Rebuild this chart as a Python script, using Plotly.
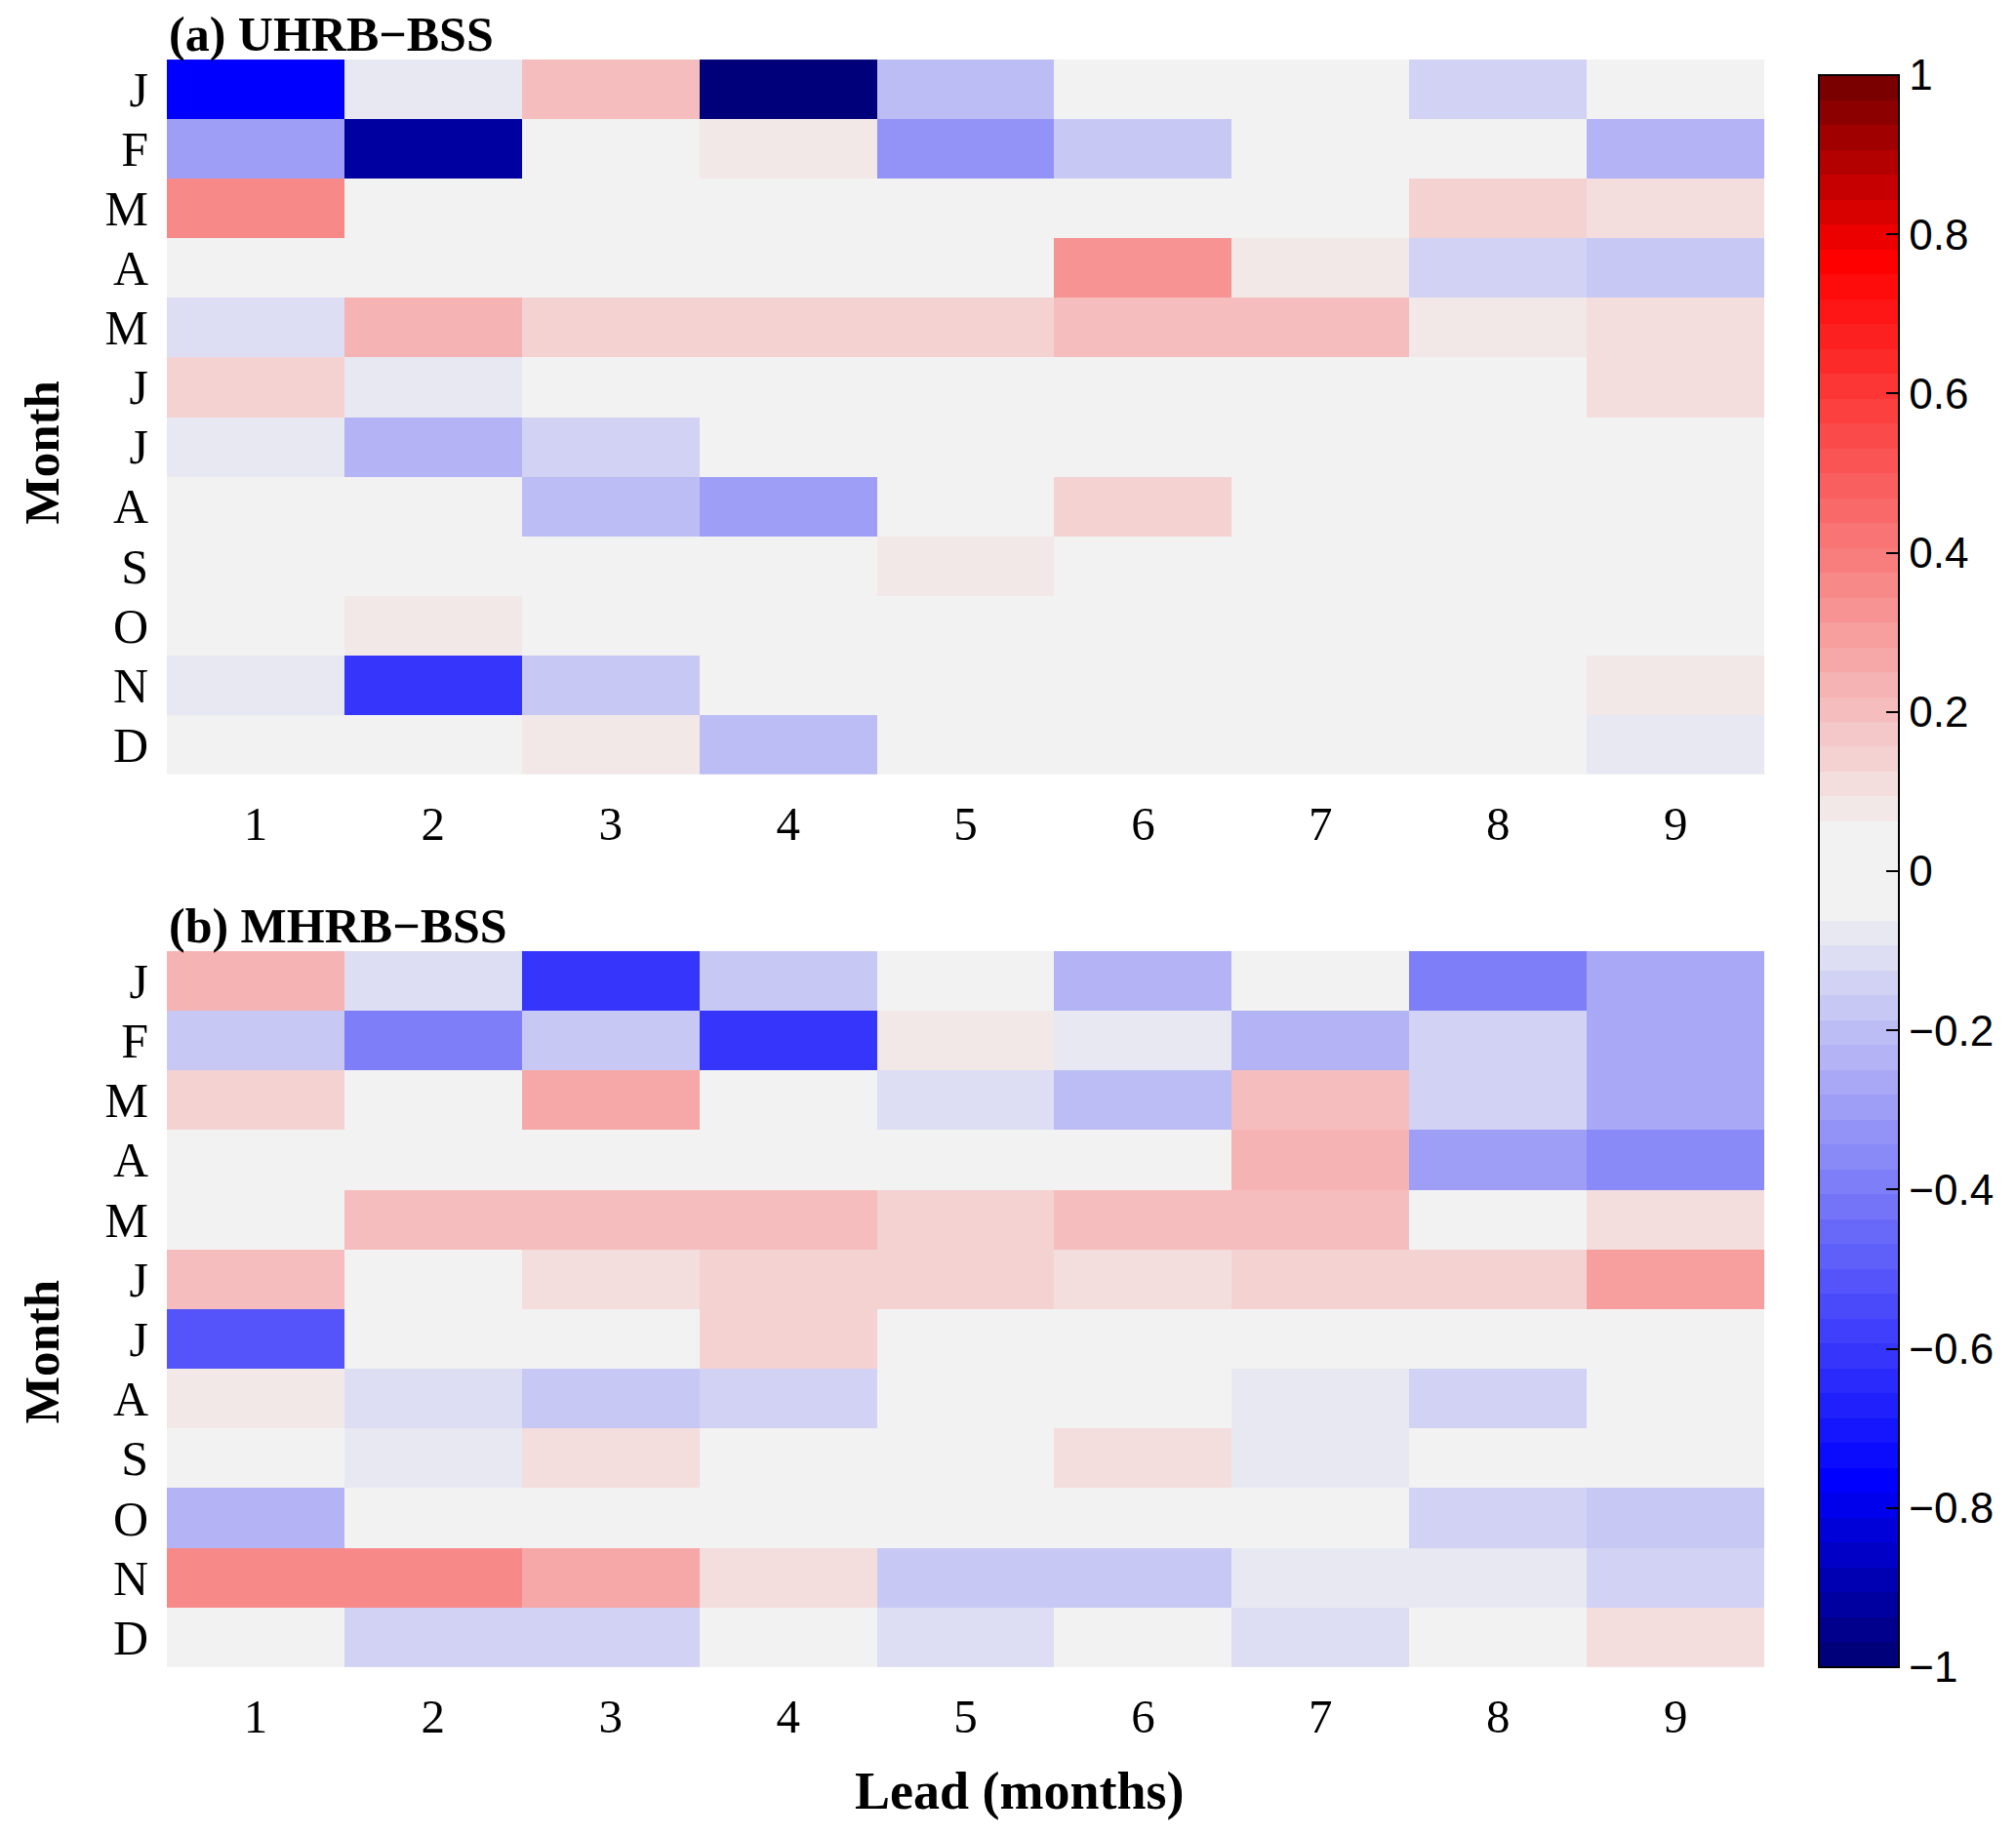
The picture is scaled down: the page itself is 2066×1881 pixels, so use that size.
import numpy as np
import plotly.graph_objects as go

months = ["J", "F", "M", "A", "M", "J", "J", "A", "S", "O", "N", "D"]
leads = [1, 2, 3, 4, 5, 6, 7, 8, 9]

# (a) UHRB-BSS, rows = months J..D, columns = lead 1..9
uhrb = [
    [-0.77, -0.08, 0.20, -0.97, -0.21, 0.00, 0.00, -0.14, 0.00],
    [-0.30, -0.91, 0.00, 0.08, -0.33, -0.18, 0.00, 0.00, -0.24],
    [0.36, 0.00, 0.00, 0.00, 0.00, 0.00, 0.00, 0.14, 0.11],
    [0.00, 0.00, 0.00, 0.00, 0.00, 0.33, 0.08, -0.14, -0.18],
    [-0.12, 0.235, 0.14, 0.14, 0.14, 0.20, 0.20, 0.08, 0.11],
    [0.14, -0.08, 0.00, 0.00, 0.00, 0.00, 0.00, 0.00, 0.11],
    [-0.08, -0.24, -0.14, 0.00, 0.00, 0.00, 0.00, 0.00, 0.00],
    [0.00, 0.00, -0.21, -0.30, 0.00, 0.14, 0.00, 0.00, 0.00],
    [0.00, 0.00, 0.00, 0.00, 0.08, 0.00, 0.00, 0.00, 0.00],
    [0.00, 0.08, 0.00, 0.00, 0.00, 0.00, 0.00, 0.00, 0.00],
    [-0.08, -0.60, -0.18, 0.00, 0.00, 0.00, 0.00, 0.00, 0.08],
    [0.00, 0.00, 0.08, -0.21, 0.00, 0.00, 0.00, 0.00, -0.08],
]

# (b) MHRB-BSS
mhrb = [
    [0.24, -0.12, -0.60, -0.18, 0.00, -0.24, 0.00, -0.39, -0.27],
    [-0.16, -0.39, -0.18, -0.62, 0.08, -0.08, -0.24, -0.14, -0.27],
    [0.14, 0.00, 0.26, 0.00, -0.12, -0.21, 0.21, -0.14, -0.27],
    [0.00, 0.00, 0.00, 0.00, 0.00, 0.00, 0.24, -0.30, -0.36],
    [0.00, 0.20, 0.19, 0.19, 0.14, 0.19, 0.21, 0.00, 0.11],
    [0.20, 0.00, 0.11, 0.14, 0.14, 0.11, 0.14, 0.14, 0.30],
    [-0.53, 0.00, 0.00, 0.14, 0.00, 0.00, 0.00, 0.00, 0.00],
    [0.08, -0.12, -0.18, -0.14, 0.00, 0.00, -0.08, -0.14, 0.00],
    [0.00, -0.08, 0.11, 0.00, 0.00, 0.11, -0.08, 0.00, 0.00],
    [-0.24, 0.00, 0.00, 0.00, 0.00, 0.00, 0.00, -0.14, -0.18],
    [0.36, 0.37, 0.28, 0.11, -0.18, -0.18, -0.08, -0.08, -0.14],
    [0.00, -0.14, -0.14, 0.00, -0.11, 0.00, -0.11, 0.00, 0.11],
]

cbar_ticks = [-1, -0.8, -0.6, -0.4, -0.2, 0, 0.2, 0.4, 0.6, 0.8, 1]


# ---- discrete 64-level blue-gray-red colormap ----
def band_color(v):
    gray = 242.0
    a = abs(v)
    if a < 0.0625:
        c = (gray, gray, gray)
        return "rgb(%d,%d,%d)" % c
    if a <= 0.78:
        t = min(max((a - 0.047) / (0.766 - 0.047), 0), 1)
        main = gray + (255 - gray) * t
        other = gray * (1 - t)
    else:
        t = (a - 0.766) / (1.0 - 0.766)
        main = 255 - (255 - 112) * min(t, 1)
        other = 0
    if v > 0:
        c = (main, other, other)
    else:
        c = (other, other, main)
    return "rgb(%d,%d,%d)" % tuple(int(round(x)) for x in c)


n = 64
colorscale = []
for k in range(n):
    center = -1 + (k + 0.5) * 2 / n
    col = band_color(center)
    colorscale.append([k / n, col])
    colorscale.append([(k + 1) / n, col])

serif = "Liberation Serif"
sans = "Liberation Sans"
black = "#000000"

W, H = 2066, 1881
X0, X1 = 0.0789, 0.8713
YA = [0.5823, 0.9718]
YB = [0.0957, 0.486]
CB_X = 0.8982
CB_TH = 82
CB_Y0, CB_Y1 = 0.0957, 0.9631

fig = go.Figure()

fig.add_trace(go.Heatmap(
    z=uhrb, x=leads, y=list(range(12)), colorscale=colorscale,
    zmin=-1, zmax=1, xaxis="x", yaxis="y", showscale=True,
    colorbar=dict(
        x=CB_X, xanchor="left", xpad=0,
        y=CB_Y0, yanchor="bottom", len=CB_Y1 - CB_Y0, lenmode="fraction",
        thickness=CB_TH, thicknessmode="pixels",
        outlinecolor=black, outlinewidth=2,
        tickvals=cbar_ticks, ticktext=[("%g" % t).replace("-", "\u2212") for t in cbar_ticks],
        ticks="inside", ticklen=14, tickwidth=2, tickcolor=black,
        tickfont=dict(family=sans, size=44, color=black),
        ypad=0,
    ),
))
fig.add_trace(go.Heatmap(
    z=mhrb, x=leads, y=list(range(12)), colorscale=colorscale,
    zmin=-1, zmax=1, xaxis="x2", yaxis="y2", showscale=False,
))

# left-side colorbar tick marks (mirror of the inside ticks)
shapes = []
for t in cbar_ticks[1:-1]:
    yp = CB_Y0 + (t + 1) / 2 * (CB_Y1 - CB_Y0)
    x_left = CB_X
    shapes.append(dict(type="line", xref="paper", yref="paper",
                       x0=x_left, x1=x_left + 14 / W, y0=yp, y1=yp,
                       line=dict(color=black, width=2)))

xcommon = dict(
    tickvals=leads, ticktext=[str(v) for v in leads], range=[0.5, 9.5],
    showgrid=False, zeroline=False, showline=False, ticks="",
    tickfont=dict(family=serif, size=49, color=black), ticklabelstandoff=17,
)
ycommon = dict(
    tickvals=list(range(12)), ticktext=months, range=[11.5, -0.5],
    showgrid=False, zeroline=False, showline=False, ticks="",
    tickfont=dict(family=serif, size=50, color=black), ticklabelstandoff=18,
)

fig.update_layout(
    width=W, height=H,
    margin=dict(l=0, r=0, t=0, b=0),
    paper_bgcolor="white", plot_bgcolor="white",
    xaxis=dict(domain=[X0, X1], anchor="y", **xcommon),
    yaxis=dict(domain=YA, anchor="x", **ycommon),
    xaxis2=dict(domain=[X0, X1], anchor="y2", **xcommon),
    yaxis2=dict(domain=YB, anchor="x2", **ycommon),
    shapes=shapes,
    annotations=[
        dict(text="<b>(a) UHRB\u2212BSS</b>", x=X0, y=YA[1], xref="paper", yref="paper",
             xanchor="left", yanchor="bottom", showarrow=False, yshift=-4,
             font=dict(family=serif, size=50, color=black)),
        dict(text="<b>(b) MHRB\u2212BSS</b>", x=X0, y=YB[1], xref="paper", yref="paper",
             xanchor="left", yanchor="bottom", showarrow=False, yshift=-4,
             font=dict(family=serif, size=50, color=black)),
        dict(text="<b>Month</b>", x=0.0167, y=0.7576, xref="paper", yref="paper",
             xanchor="center", yanchor="middle", showarrow=False, textangle=-90,
             font=dict(family=serif, size=51, color=black)),
        dict(text="<b>Month</b>", x=0.0167, y=0.2676, xref="paper", yref="paper",
             xanchor="center", yanchor="middle", showarrow=False, textangle=-90,
             font=dict(family=serif, size=51, color=black)),
        dict(text="<b>Lead (months)</b>", x=0.5017, y=0.0281, xref="paper", yref="paper",
             xanchor="center", yanchor="middle", showarrow=False,
             font=dict(family=serif, size=54, color=black)),
    ],
)

fig.write_html("out.html")
